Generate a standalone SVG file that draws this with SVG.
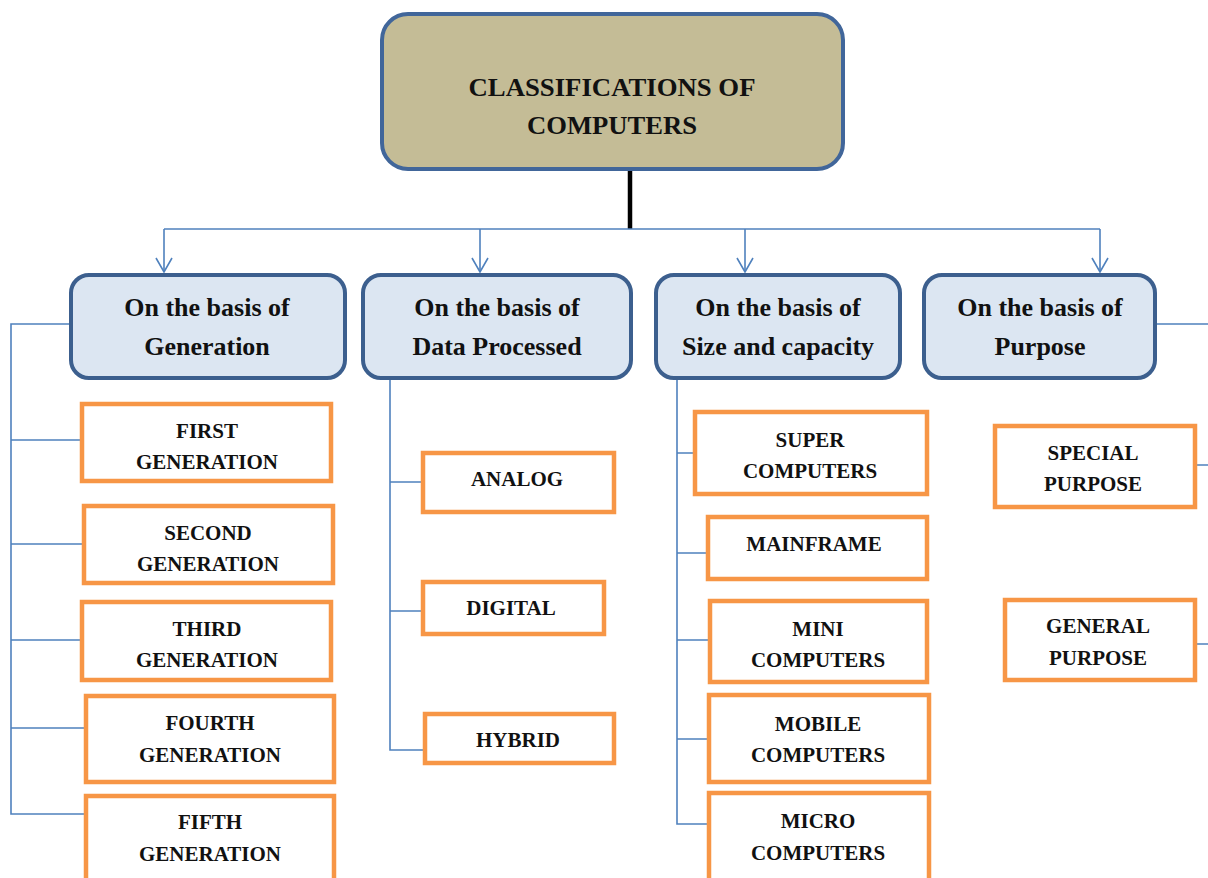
<svg xmlns="http://www.w3.org/2000/svg" width="1208" height="878" viewBox="0 0 1208 878">
<style>
.root{fill:#C4BC96;stroke:#41669A;stroke-width:4}
.cat{fill:#DCE6F2;stroke:#3C5F8E;stroke-width:4}
.leaf{fill:#FFFFFF;stroke:#F79646;stroke-width:4.5}
.conn{fill:none;stroke:#4F81BD;stroke-width:1.6}
.t{font-family:"Liberation Serif","Times New Roman",serif;font-weight:bold;fill:#111;text-anchor:middle}
.rt{font-size:26px}
.ct{font-size:26px}
.lt{font-size:21px}
</style>
<defs>
<marker id="arr" markerWidth="16" markerHeight="18" refX="15" refY="9" orient="auto" markerUnits="userSpaceOnUse" viewBox="0 0 16 18">
<path d="M1,1 L15,9 L1,17" fill="none" stroke="#4F81BD" stroke-width="1.6"/>
</marker>
</defs>
<rect width="1208" height="878" fill="#FFFFFF"/>
<g id="connectors">
<line x1="630" y1="169" x2="630" y2="229" stroke="#000" stroke-width="4.5"/>
<path class="conn" d="M164,229 H1100"/>
<path class="conn" d="M164,229 V272" marker-end="url(#arr)"/>
<path class="conn" d="M480,229 V272" marker-end="url(#arr)"/>
<path class="conn" d="M745,229 V272" marker-end="url(#arr)"/>
<path class="conn" d="M1100,229 V272" marker-end="url(#arr)"/>
<path class="conn" d="M71,324 H11 V814 H86"/>
<path class="conn" d="M11,440 H82 M11,544 H84 M11,640 H82 M11,728 H86"/>
<path class="conn" d="M390,378 V750 H425 M390,482 H423 M390,611 H423"/>
<path class="conn" d="M677,378 V824 H709 M677,453 H695 M677,553 H708 M677,640 H710 M677,739 H709"/>
<path class="conn" d="M1155,324 H1208 M1195,465 H1208 M1195,644 H1208"/>
</g>
<g id="root">
<rect class="root" x="382" y="14" width="461" height="155" rx="26"/>
<text class="t rt" x="612" y="96" textLength="287" lengthAdjust="spacingAndGlyphs">CLASSIFICATIONS OF</text>
<text class="t rt" x="612" y="134" textLength="170" lengthAdjust="spacingAndGlyphs">COMPUTERS</text>
</g>
<g id="cat-generation">
<rect class="cat" x="71" y="275" width="274" height="103" rx="18"/>
<text class="t ct" x="207" y="316">On the basis of</text>
<text class="t ct" x="207" y="355">Generation</text>
</g>
<g id="cat-data">
<rect class="cat" x="363" y="275" width="268" height="103" rx="18"/>
<text class="t ct" x="497" y="316">On the basis of</text>
<text class="t ct" x="497" y="355">Data Processed</text>
</g>
<g id="cat-size">
<rect class="cat" x="656" y="275" width="244" height="103" rx="18"/>
<text class="t ct" x="778" y="316">On the basis of</text>
<text class="t ct" x="778" y="355">Size and capacity</text>
</g>
<g id="cat-purpose">
<rect class="cat" x="924" y="275" width="231" height="103" rx="18"/>
<text class="t ct" x="1040" y="316">On the basis of</text>
<text class="t ct" x="1040" y="355">Purpose</text>
</g>
<g id="first">
<rect class="leaf" x="82" y="404" width="249" height="77"/>
<text class="t lt" x="207" y="438">FIRST</text>
<text class="t lt" x="207" y="469">GENERATION</text>
</g>
<g id="second">
<rect class="leaf" x="84" y="506" width="249" height="77"/>
<text class="t lt" x="208" y="540">SECOND</text>
<text class="t lt" x="208" y="571">GENERATION</text>
</g>
<g id="third">
<rect class="leaf" x="82" y="602" width="249" height="78"/>
<text class="t lt" x="207" y="636">THIRD</text>
<text class="t lt" x="207" y="667">GENERATION</text>
</g>
<g id="fourth">
<rect class="leaf" x="86" y="696" width="248" height="86"/>
<text class="t lt" x="210" y="730">FOURTH</text>
<text class="t lt" x="210" y="762">GENERATION</text>
</g>
<g id="fifth">
<rect class="leaf" x="86" y="796" width="248" height="90"/>
<text class="t lt" x="210" y="829">FIFTH</text>
<text class="t lt" x="210" y="861">GENERATION</text>
</g>
<g id="analog">
<rect class="leaf" x="423" y="453" width="191" height="59"/>
<text class="t lt" x="517" y="486">ANALOG</text>
</g>
<g id="digital">
<rect class="leaf" x="423" y="582" width="181" height="52"/>
<text class="t lt" x="511" y="615">DIGITAL</text>
</g>
<g id="hybrid">
<rect class="leaf" x="425" y="714" width="189" height="49"/>
<text class="t lt" x="518" y="747">HYBRID</text>
</g>
<g id="super">
<rect class="leaf" x="695" y="412" width="232" height="82"/>
<text class="t lt" x="810" y="447">SUPER</text>
<text class="t lt" x="810" y="478">COMPUTERS</text>
</g>
<g id="mainframe">
<rect class="leaf" x="708" y="517" width="219" height="62"/>
<text class="t lt" x="814" y="551">MAINFRAME</text>
</g>
<g id="mini">
<rect class="leaf" x="710" y="601" width="217" height="81"/>
<text class="t lt" x="818" y="636">MINI</text>
<text class="t lt" x="818" y="667">COMPUTERS</text>
</g>
<g id="mobile">
<rect class="leaf" x="709" y="695" width="220" height="87"/>
<text class="t lt" x="818" y="731">MOBILE</text>
<text class="t lt" x="818" y="762">COMPUTERS</text>
</g>
<g id="micro">
<rect class="leaf" x="709" y="793" width="220" height="95"/>
<text class="t lt" x="818" y="828">MICRO</text>
<text class="t lt" x="818" y="860">COMPUTERS</text>
</g>
<g id="special">
<rect class="leaf" x="995" y="426" width="200" height="81"/>
<text class="t lt" x="1093" y="460">SPECIAL</text>
<text class="t lt" x="1093" y="491">PURPOSE</text>
</g>
<g id="general">
<rect class="leaf" x="1005" y="600" width="190" height="80"/>
<text class="t lt" x="1098" y="633">GENERAL</text>
<text class="t lt" x="1098" y="665">PURPOSE</text>
</g>
</svg>
